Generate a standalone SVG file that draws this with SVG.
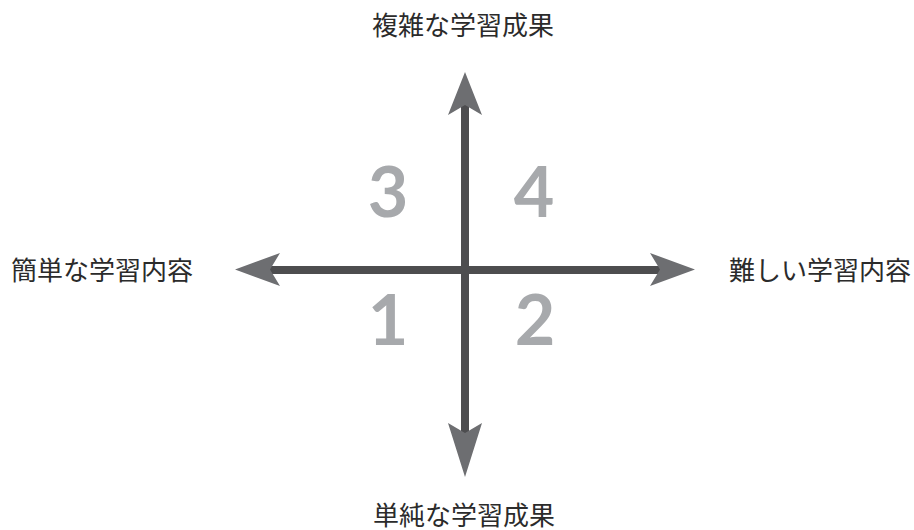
<svg xmlns="http://www.w3.org/2000/svg" width="914" height="530" viewBox="0 0 914 530">
<style>
.lbl{font-family:"Noto Sans CJK JP","Noto Sans",sans-serif;font-size:26px;font-weight:400;fill:#2b2b2b}
.num{font-family:"Lato","Open Sans","Liberation Sans",sans-serif;font-size:70px;font-weight:700;fill:#a7a9ac;text-anchor:middle}
.ax{stroke:#4d4d4f;stroke-width:8;fill:none}
.head{fill:#6d6e71}
</style>
<rect width="914" height="530" fill="#ffffff"/>
<g id="connectors">
<line class="ax" x1="465" y1="104" x2="465" y2="434"/>
<line class="ax" x1="269" y1="270" x2="661" y2="270"/>
<path class="head" d="M465,72 L482,115 L465,105 L448,115 Z"/>
<path class="head" d="M465,477 L482,423 L465,433 L448,423 Z"/>
<path class="head" d="M235,269.5 L280,253 L270,269.5 L280,286 Z"/>
<path class="head" d="M695,269.5 L650,253 L660,269.5 L650,286 Z"/>
</g>
<g id="top"><text class="lbl" x="372" y="34.5">複雑な学習成果</text></g>
<g id="bottom"><text class="lbl" x="373" y="524.5">単純な学習成果</text></g>
<g id="left"><text class="lbl" x="11" y="279.5">簡単な学習内容</text></g>
<g id="right"><text class="lbl" x="729" y="279.5">難しい学習内容</text></g>
<g id="q3"><text class="num" x="388" y="217">3</text></g>
<g id="q4"><text class="num" x="534" y="217">4</text></g>
<g id="q1"><text class="num" x="388" y="345">1</text></g>
<g id="q2"><text class="num" x="535" y="345">2</text></g>
</svg>
